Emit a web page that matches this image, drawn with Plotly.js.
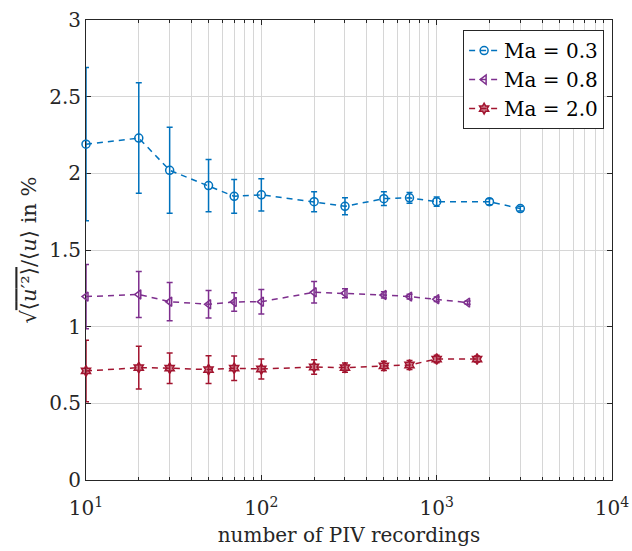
<!DOCTYPE html>
<html>
<head>
<meta charset="utf-8">
<script src="https://cdn.plot.ly/plotly-3.0.1.min.js"></script>
<style>html,body{margin:0;padding:0;background:#fff;}</style>
</head>
<body>
<div id="chart" style="width:632px;height:551px;"></div>
<script>
// Ma = 0.3
var x03 = [10, 20, 30, 50, 70, 100, 200, 300, 500, 700, 1000, 2000, 3000];
var y03 = [2.19, 2.23, 2.02, 1.92, 1.85, 1.86, 1.815, 1.785, 1.835, 1.84, 1.815, 1.815, 1.77];
var e03 = [0.50, 0.36, 0.28, 0.17, 0.11, 0.105, 0.065, 0.055, 0.045, 0.035, 0.03, 0.02, 0.015];
// Ma = 0.8
var x08 = [10, 20, 30, 50, 70, 100, 200, 300, 500, 700, 1000, 1500];
var y08 = [1.196, 1.21, 1.163, 1.146, 1.161, 1.163, 1.224, 1.218, 1.207, 1.196, 1.179, 1.157];
var e08 = [0.21, 0.15, 0.125, 0.09, 0.06, 0.08, 0.07, 0.03, 0.02, 0.015, 0.015, 0.01];
// Ma = 2.0
var x20 = [10, 20, 30, 50, 70, 100, 200, 300, 500, 700, 1000, 1700];
var y20 = [0.711, 0.733, 0.729, 0.72, 0.729, 0.724, 0.737, 0.733, 0.744, 0.75, 0.789, 0.789];
var e20 = [0.20, 0.14, 0.10, 0.09, 0.08, 0.065, 0.048, 0.03, 0.03, 0.03, 0.025, 0.02];

var names = ['Ma = 0.3', 'Ma = 0.8', 'Ma = 2.0'];
var colors = ['#0072BD', '#7E2F8E', '#A2142F'];

var xTickVals = [10, 100, 1000, 10000];
var xTickText = ['10<sup>1</sup>', '10<sup>2</sup>', '10<sup>3</sup>', '10<sup>4</sup>'];
var yTickVals = [0, 0.5, 1, 1.5, 2, 2.5, 3];
var yTickText = ['0', '0.5', '1', '1.5', '2', '2.5', '3'];

function trace(x, y, e, name, color, symbol, fill) {
  return {
    x: x, y: y, name: name, type: 'scatter', mode: 'lines+markers', cliponaxis: false,
    line: {color: color, width: 1.5, dash: '6px,5px'},
    marker: {symbol: symbol, size: 8, color: fill, line: {color: color, width: 1.5}},
    error_y: {type: 'data', array: e, visible: true, color: color, thickness: 1.5, width: 3}
  };
}

var data = [
  trace(x03, y03, e03, names[0], colors[0], 'circle-open', colors[0]),
  trace(x08, y08, e08, names[1], colors[1], 'triangle-left-open', colors[1]),
  trace(x20, y20, e20, names[2], colors[2], 'hexagram', 'rgba(162,20,47,0.55)')
];

var font = "'DejaVu Serif', serif";
var layout = {
  width: 632, height: 551,
  margin: {l: 86, r: 20, t: 20, b: 71},
  paper_bgcolor: '#fff', plot_bgcolor: '#fff',
  font: {family: font, size: 20, color: '#262626'},
  showlegend: true,
  legend: {x: 0.985, y: 0.978, xanchor: 'right', yanchor: 'top',
           bordercolor: '#262626', borderwidth: 1, bgcolor: '#fff',
           font: {family: font, size: 20, color: '#000'}, tracegroupgap: 0},
  xaxis: {
    type: 'log', range: [1, 4], layer: 'below traces',
    tickvals: xTickVals, ticktext: xTickText,
    ticks: 'inside', ticklen: 5, tickcolor: '#262626', tickwidth: 1,
    ticklabelstandoff: 10,
    showline: true, linecolor: '#262626', linewidth: 1, mirror: 'ticks',
    showgrid: true, gridcolor: '#d6d6d6', gridwidth: 1,
    zeroline: false,
    minor: {dtick: 'D1', ticks: 'inside', ticklen: 3, tickcolor: '#262626', showgrid: true, gridcolor: '#d6d6d6', gridwidth: 1},
    tickfont: {family: font, size: 20, color: '#262626'},
    title: {text: 'number of PIV recordings', font: {family: font, size: 20, color: '#262626'}, standoff: 8}
  },
  yaxis: {
    range: [0, 3], layer: 'below traces',
    tickvals: yTickVals, ticktext: yTickText,
    ticks: 'inside', ticklen: 5, tickcolor: '#262626', tickwidth: 1,
    showline: true, linecolor: '#262626', linewidth: 1, mirror: 'ticks',
    showgrid: true, gridcolor: '#d6d6d6', gridwidth: 1,
    zeroline: false,
    tickfont: {family: font, size: 20, color: '#262626'},
    title: {text: '√<span style="text-decoration:overline">⟨<i>u</i>′²⟩</span>/⟨<i>u</i>⟩ in %', font: {family: font, size: 21, color: '#262626'}, standoff: 6}
  }
};

Plotly.newPlot('chart', data, layout, {displayModeBar: false, staticPlot: true});
</script>
</body>
</html>
